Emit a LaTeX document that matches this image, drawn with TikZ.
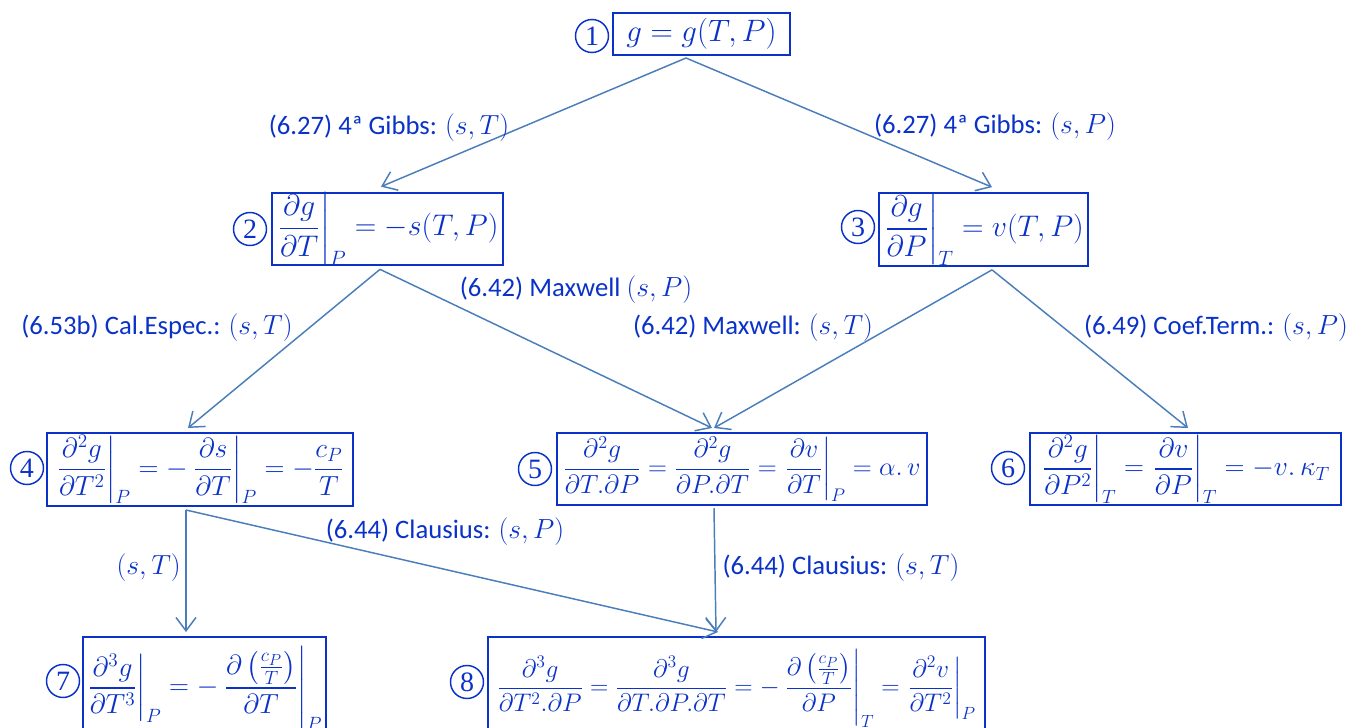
\documentclass[tikz,border=0pt]{standalone}
\usepackage{amsmath}
\usepackage{graphicx}
\usepackage{fontspec}
\setmainfont{Carlito}
\newfontfamily\numfont{Liberation Serif}
\usetikzlibrary{arrows.meta,calc}
\definecolor{tblue}{RGB}{10,50,200}
\definecolor{ablue}{RGB}{74,126,187}
\newcommand\eqn[2][0.95]{\scalebox{#1}{$\displaystyle #2$}}
\begin{document}
\begin{tikzpicture}[x=0.75pt,y=-0.75pt,
 eqbox/.style={draw=tblue, line width=1.5pt, text=tblue, inner sep=0pt, font=\fontsize{20.74}{24}\selectfont},
 num/.style={circle, draw=tblue, line width=1.1pt, text=tblue, minimum size=24.75pt, inner sep=0pt, font=\numfont\fontsize{21}{24}\selectfont},
 lbl/.style={text=tblue, font=\fontsize{20}{24}\selectfont, inner sep=0pt},
 conn/.style={draw=ablue, line width=1.1pt, -{Straight Barb[length=10pt,width=15pt,line width=1.1pt]}}]
\useasboundingbox (0,0) rectangle (1365,728);
\clip (0,0) rectangle (1365,728);
% boxes
\node[eqbox, minimum width=132.75pt, minimum height=31.5pt] (b1) at (701.5,34) {\eqn[1.12]{g = g(T,P)}};
\node[eqbox, minimum width=173.25pt, minimum height=52.5pt] (b2) at (387.5,229) {\eqn[1.08]{\left.\frac{\partial g}{\partial T}\right|_P = -s(T,P)}};
\node[eqbox, minimum width=156.75pt, minimum height=53.25pt] (b3) at (983.5,229.5) {\eqn[1.08]{\left.\frac{\partial g}{\partial P}\right|_T = v(T,P)}};
\node[eqbox, minimum width=229.5pt, minimum height=54.75pt] (b4) at (200,469.5) {\eqn[1]{\left.\frac{\partial^2 g}{\partial T^2}\right|_P = -\left.\frac{\partial s}{\partial T}\right|_P = -\frac{c_P}{T}}};
\node[eqbox, minimum width=277.5pt, minimum height=54pt] (b5) at (742,469) {\eqn{\frac{\partial^2 g}{\partial T.\partial P} = \frac{\partial^2 g}{\partial P.\partial T} = \left.\frac{\partial v}{\partial T}\right|_P = \alpha.\,v}};
\node[eqbox, minimum width=233.25pt, minimum height=54pt] (b6) at (1185.5,469) {\eqn[1]{\left.\frac{\partial^2 g}{\partial P^2}\right|_T = \left.\frac{\partial v}{\partial P}\right|_T = -v.\,\kappa_T}};
\node[eqbox, minimum width=182.25pt, minimum height=77.25pt] (b7) at (204.5,688.5) {\eqn[1]{\left.\frac{\partial^3 g}{\partial T^3}\right|_P = -\left.\frac{\partial\left(\frac{c_P}{T}\right)}{\partial T}\right|_P}};
\node[eqbox, minimum width=372.75pt, minimum height=77.25pt] (b8) at (736.5,688.5) {\eqn[0.92]{\frac{\partial^3 g}{\partial T^2.\partial P} = \frac{\partial^3 g}{\partial T.\partial P.\partial T} = -\left.\frac{\partial\left(\frac{c_P}{T}\right)}{\partial P}\right|_T = \left.\frac{\partial^2 v}{\partial T^2}\right|_P}};
% numbers
\node[num] (c1) at (592,36) {1};
\node[num] (c2) at (250,229) {2};
\node[num] (c3) at (858,227) {3};
\node[num] (c4) at (27,468) {4};
\node[num] (c5) at (535,469) {5};
\node[num] (c6) at (1008,468) {6};
\node[num] (c7) at (63,681) {7};
\node[num] (c8) at (467,682) {8};
% connectors
\draw[conn] ($(b1.south)+(-15.5,2)$) -- ($(b2.north)+(-6.5,-5)$);
\draw[conn] ($(b1.south)+(-15.5,2)$) -- ($(b3.north)+(8.5,-5)$);
\draw[conn] ($(b2.south)+(-7.5,3)$) -- ($(b4.north)+(-12,-4)$);
\draw[conn] ($(b2.south)+(-7.5,3)$) -- ($(b5.north)+(-30,-4)$);
\draw[conn] ($(b3.south)+(8.5,3)$) -- ($(b5.north)+(-28,-4)$);
\draw[conn] ($(b3.south)+(8.5,3)$) -- ($(b6.north)+(2.5,-4)$);
\draw[conn] ($(b4.south)+(-14,3)$) -- ($(b7.north)+(-18.5,-4)$);
\draw[conn] ($(b4.south)+(-14,3)$) -- ($(b8.north)+(-18.5,-4)$);
\draw[conn] ($(b5.south)+(-28,2)$) -- ($(b8.north)+(-20.5,-4)$);
% labels
\node[lbl] (l1) at (389,128) {(6.27) 4ª Gibbs: $(s,T)$};
\node[lbl] (l2) at (995,127) {(6.27) 4ª Gibbs: $(s,P)$};
\node[lbl] (l3) at (157,328) {(6.53b) Cal.Espec.: $(s,T)$};
\node[lbl] (l4) at (576,290) {(6.42) Maxwell $(s,P)$};
\node[lbl] (l5) at (753,328) {(6.42) Maxwell: $(s,T)$};
\node[lbl] (l6) at (1216,328) {(6.49) Coef.Term.: $(s,P)$};
\node[lbl, anchor=east] (l7) at (181,568) {$(s,T)$};
\node[lbl] (l8) at (445,532) {(6.44) Clausius: $(s,P)$};
\node[lbl] (l9) at (841,568) {(6.44) Clausius: $(s,T)$};
\end{tikzpicture}
\end{document}
